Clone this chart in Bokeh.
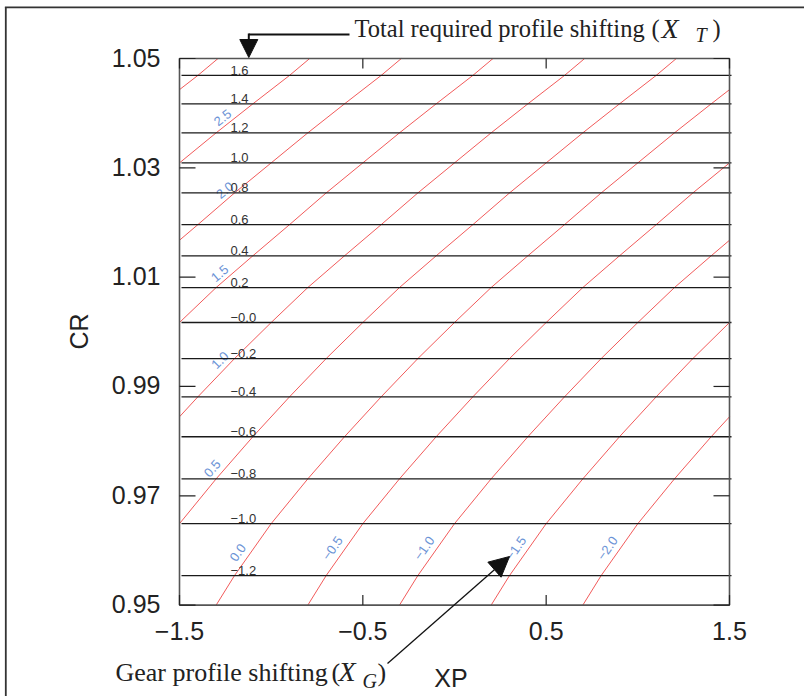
import math
import numpy as np
from bokeh.plotting import figure
from bokeh.models import Range1d, Arrow, NormalHead
from bokeh.core.properties import value
from bokeh.embed import file_html
from bokeh.resources import INLINE

# ---------------- data ----------------
# Total required profile shifting X_T: level and the CR at which its (horizontal) contour lies
XT_LEVELS = [1.6, 1.4, 1.2, 1.0, 0.8, 0.6, 0.4, 0.2, 0.0, -0.2, -0.4, -0.6, -0.8, -1.0, -1.2]
XT_LEVEL_CR = [1.0469, 1.0417, 1.0364, 1.0309, 1.0254, 1.0196, 1.0139, 1.0081, 1.0017,
               0.9951, 0.9881, 0.9808, 0.9731, 0.9649, 0.9554]
XT_LEVEL_TEXT = ["1.6", "1.4", "1.2", "1.0", "0.8", "0.6", "0.4", "0.2", "\u22120.0",
                 "\u22120.2", "\u22120.4", "\u22120.6", "\u22120.8", "\u22121.0", "\u22121.2"]
# X_T at the top and bottom edges of the CR range
XT_EDGE_CR = [1.05, 0.95]
XT_EDGE_VAL = [1.71, -1.30]

# Gear profile shifting X_G contour levels (X_G = X_T - XP)
XG_LEVELS = [3.0, 2.5, 2.0, 1.5, 1.0, 0.5, 0.0, -0.5, -1.0, -1.5, -2.0]
XG_LABEL_LEVELS = [2.5, 2.0, 1.5, 1.0, 0.5, 0.0, -0.5, -1.0, -1.5, -2.0]
XG_LABEL_TEXT = ["2.5", "2.0", "1.5", "1.0", "0.5", "0.0", "\u22120.5", "\u22121.0", "\u22121.5", "\u22122.0"]
XG_LABEL_CR = [1.0392, 1.0259, 1.0107, 0.9948, 0.9750, 0.9596, 0.9604, 0.9604, 0.9604, 0.9604]

X_TICKS = [-1.5, -0.5, 0.5, 1.5]
X_TICK_TEXT = ["\u22121.5", "\u22120.5", "0.5", "1.5"]
Y_TICKS = [0.95, 0.97, 0.99, 1.01, 1.03, 1.05]
Y_TICK_TEXT = ["0.95", "0.97", "0.99", "1.01", "1.03", "1.05"]

XMIN, XMAX, YMIN, YMAX = -1.5, 1.5, 0.95, 1.05

# ---------------- layout (picture pixels) ----------------
CW, CH = 804, 696
PL, PR, PT, PB = 179, 729, 58, 604.6   # plot box
PX_X = (PR - PL) / (XMAX - XMIN)
PX_Y = (PB - PT) / (YMAX - YMIN)


def X(px):
    return XMIN + (px - PL) / PX_X


def Y(py):
    return YMAX - (py - PT) / PX_Y


SANS = "Liberation Sans"
SERIF = "Liberation Serif"
INK = "#222222"

p = figure(width=CW, height=CH,
           x_range=Range1d(X(0), X(CW)), y_range=Range1d(Y(CH), Y(0)),
           output_backend="svg", toolbar_location=None,
           x_axis_location=None, y_axis_location=None,
           min_border=0, min_border_left=0, min_border_right=0,
           min_border_top=0, min_border_bottom=0,
           background_fill_color="white", border_fill_color="white")
p.grid.visible = False
p.outline_line_color = None

# ---------------- X_G contours: XP = X_T(CR) - X_G, clipped to the plot box ----------------
cr_curve = np.array([XT_EDGE_CR[0]] + XT_LEVEL_CR + [XT_EDGE_CR[1]])
xt_curve = np.array([XT_EDGE_VAL[0]] + XT_LEVELS + [XT_EDGE_VAL[1]])
cr_asc, xt_asc = cr_curve[::-1], xt_curve[::-1]

red_xs, red_ys = [], []
for g in XG_LEVELS:
    lo = max(YMIN, float(np.interp(XMIN + g, xt_asc, cr_asc)))
    hi = min(YMAX, float(np.interp(XMAX + g, xt_asc, cr_asc)))
    if hi <= lo:
        continue
    pts = [lo] + [c for c in cr_asc if lo < c < hi] + [hi]
    red_xs.append(list(np.interp(pts, cr_asc, xt_asc) - g))
    red_ys.append(pts)
p.multi_line(xs=red_xs, ys=red_ys, line_color="#ee3333", line_width=0.9, line_alpha=0.9)

lab_cr = np.array(XG_LABEL_CR)
lab_x = np.interp(lab_cr, cr_asc, xt_asc) - np.array(XG_LABEL_LEVELS)
d = 0.0008
dxt = np.interp(lab_cr + d, cr_asc, xt_asc) - np.interp(lab_cr - d, cr_asc, xt_asc)
angles = [math.atan2(2 * d * PX_Y, v * PX_X) for v in dxt]
p.text(x=list(lab_x), y=list(lab_cr), text=XG_LABEL_TEXT, angle=angles, x_offset=-13,
       text_font=value(SANS), text_font_size="13px", text_color="#6b93d6",
       text_align="center", text_baseline="middle")

# ---------------- X_T horizontal contours ----------------
n = len(XT_LEVELS)
p.segment(x0=[XMIN + 2 / PX_X] * n, x1=[XMAX + 2 / PX_X] * n, y0=XT_LEVEL_CR, y1=XT_LEVEL_CR,
          line_color="#1a1a1a", line_width=1.3)
p.text(x=[XMIN] * n, y=XT_LEVEL_CR, text=XT_LEVEL_TEXT, x_offset=51, y_offset=-5,
       text_font=value(SANS), text_font_size="13px", text_color="#333333",
       text_align="left", text_baseline="middle")

# ---------------- plot box, ticks and tick labels ----------------
p.quad(left=[XMIN], right=[XMAX], bottom=[YMIN], top=[YMAX], fill_color=None,
       line_color="#555555", line_width=1.6)

ny, nx = len(Y_TICKS), len(X_TICKS)
p.segment(x0=[XMIN] * ny, x1=[XMIN + 16 / PX_X] * ny, y0=Y_TICKS, y1=Y_TICKS,
          line_color=INK, line_width=1.2)
p.segment(x0=[XMAX] * ny, x1=[XMAX - 16 / PX_X] * ny, y0=Y_TICKS, y1=Y_TICKS,
          line_color=INK, line_width=1.2)
p.segment(x0=X_TICKS, x1=X_TICKS, y0=[YMIN] * nx, y1=[YMIN + 10 / PX_Y] * nx,
          line_color=INK, line_width=1.2)
p.segment(x0=X_TICKS, x1=X_TICKS, y0=[YMAX] * nx, y1=[YMAX - 10 / PX_Y] * nx,
          line_color=INK, line_width=1.2)

p.text(x=[XMIN] * ny, y=Y_TICKS, text=Y_TICK_TEXT, x_offset=-19, y_offset=-1,
       text_font=value(SANS), text_font_size="25px", text_color=INK,
       text_align="right", text_baseline="middle")
p.text(x=X_TICKS, y=[YMIN] * nx, text=X_TICK_TEXT, y_offset=26,
       text_font=value(SANS), text_font_size="25px", text_color=INK,
       text_align="center", text_baseline="middle")

# axis titles
p.text(x=[X(78.5)], y=[Y(331)], text=["CR"], angle=math.pi / 2,
       text_font=value(SANS), text_font_size="25px", text_color=INK,
       text_align="center", text_baseline="middle")
p.text(x=[X(450.5)], y=[Y(677)], text=["XP"],
       text_font=value(SANS), text_font_size="25px", text_color=INK,
       text_align="center", text_baseline="middle")


# ---------------- annotations ----------------
def lab(px, py, txt, size="25px", style="normal"):
    p.text(x=[X(px)], y=[Y(py)], text=[txt], text_font=value(SERIF), text_font_size=size,
           text_font_style=value(style), text_color=INK,
           text_align="left", text_baseline="middle")


lab(354, 28, "Total required profile shifting", size="24.5px")
lab(651, 28, "(", size="24.5px")
lab(661, 27.5, "X", size="28px", style="italic")
lab(695, 34.5, "T", size="20px", style="italic")
lab(712, 28, ")", size="24.5px")

lab(115, 671.5, "Gear profile shifting", size="26px")
lab(331, 671.5, "(", size="26px")
lab(338, 671, "X", size="28px", style="italic")
lab(362, 680, "G", size="20px", style="italic")
lab(377, 671.5, ")", size="26px")

p.add_layout(Arrow(end=None, x_start=X(349), y_start=Y(34), x_end=X(248.3), y_end=Y(34),
                   line_width=2, line_color="#111111"))
p.add_layout(Arrow(end=NormalHead(size=18, fill_color="#111111", line_color="#111111"),
                   x_start=X(248.3), y_start=Y(33), x_end=X(248.3), y_end=Y(57),
                   line_width=2, line_color="#111111"))
p.add_layout(Arrow(end=NormalHead(size=20, fill_color="#111111", line_color="#111111"),
                   x_start=X(387), y_start=Y(663), x_end=X(509), y_end=Y(556),
                   line_width=1.3, line_color="#111111"))

# outer border (top and left edges of the figure box)
p.segment(x0=[X(5.3), X(4.4)], x1=[X(5.3), X(CW + 5)], y0=[Y(6.8), Y(6.8)], y1=[Y(CH + 5), Y(6.8)],
          line_color="#333333", line_width=1.8)

open("out.html", "w").write(file_html(p, INLINE))
